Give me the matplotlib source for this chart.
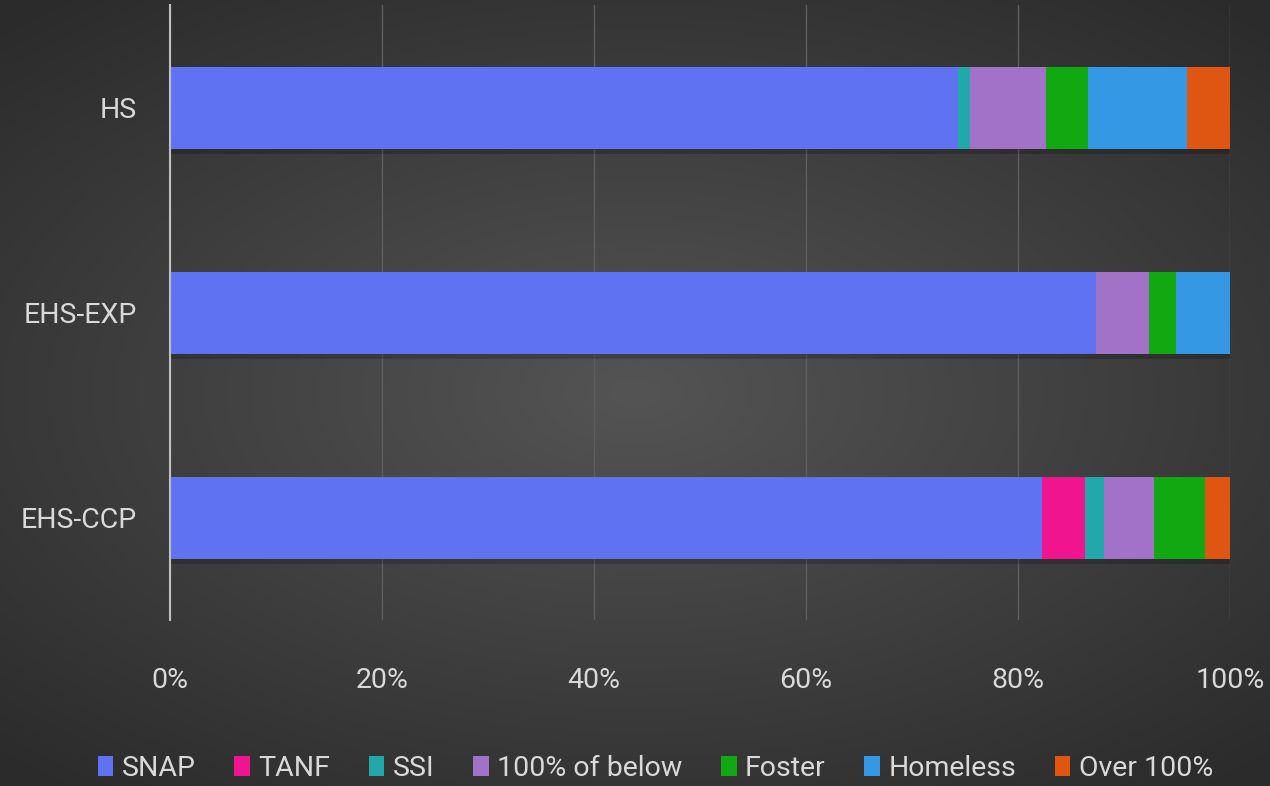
import numpy as np
import matplotlib
matplotlib.use('Agg')
import matplotlib.pyplot as plt
from matplotlib.patches import Patch

# data (percent of enrollment)
categories = ['HS', 'EHS-EXP', 'EHS-CCP']
series = ['SNAP', 'TANF', 'SSI', '100% of below', 'Foster', 'Homeless', 'Over 100%']
snap = [74.3, 87.4, 82.3]
tanf = [0.0, 0.0, 4.0]
ssi = [1.2, 0.0, 1.8]
below100 = [7.1, 5.0, 4.7]
foster = [4.0, 2.5, 4.8]
homeless = [9.3, 5.1, 0.0]
over100 = [4.1, 0.0, 2.4]
values = [snap, tanf, ssi, below100, foster, homeless, over100]
colors = ['#5f72f2', '#f0158e', '#22a7aa', '#a272c9', '#12a812', '#3598e4', '#df5512']
ticks = [0, 20, 40, 60, 80, 100]

plt.rcParams['font.family'] = ['Roboto', 'DejaVu Sans']
txt = '#d9d9d9'
fs = 20.5

fig = plt.figure(figsize=(12.7, 7.86), dpi=100)

# radial dark background
bg = fig.add_axes([0, 0, 1, 1], zorder=-10)
yy, xx = np.mgrid[-1:1:400j, -1:1:640j]
r = np.sqrt((xx * 0.9) ** 2 + (yy * 1.0) ** 2)
img = np.clip(1 - r / 1.3, 0, 1)
base = 0.17 + 0.16 * img
bg.imshow(np.dstack([base, base, base]), aspect='auto', extent=[0, 1, 0, 1])
bg.axis('off')

ax = fig.add_axes([170 / 1270, 1 - 620 / 786, 1060 / 1270, 615 / 786])
ax.patch.set_alpha(0)
y = np.arange(len(categories))
left = np.zeros(len(categories))
h = 0.4
# soft shadow under bars
total = np.sum(values, axis=0)
ax.barh(y + 0.025, total, height=h, left=0, color='black', alpha=0.2, zorder=1)
for name, vals, c in zip(series, values, colors):
    ax.barh(y, vals, height=h, left=left, color=c, label=name, zorder=2)
    left += np.array(vals)

ax.set_xlim(0, 100)
ax.set_ylim(2.5, -0.5)
ax.set_yticks(y)
ax.set_yticklabels(categories)
ax.set_xticks(ticks)
ax.set_xticklabels([f'{t}%' for t in ticks])
ax.tick_params(axis='both', length=0, colors=txt, labelsize=fs)
ax.tick_params(axis='y', pad=24)
ax.tick_params(axis='x', pad=34)
ax.grid(axis='x', color='#5e5e5e', linewidth=1, zorder=0)
ax.set_axisbelow(True)
for s in ['top', 'right', 'bottom']:
    ax.spines[s].set_visible(False)
ax.spines['left'].set_color('#bfbfbf')
ax.spines['left'].set_linewidth(1.5)
ax.spines['left'].set_zorder(3)

handles = [Patch(facecolor=c, label=n) for n, c in zip(series, colors)]
fig.legend(handles=handles, loc='center', bbox_to_anchor=(0.516, 1 - 768 / 786),
           ncol=7, frameon=False, fontsize=fs, handlelength=0.55, handleheight=0.7,
           handletextpad=0.3, columnspacing=1.35, labelcolor=txt)

fig.savefig('out.png', dpi=100)
